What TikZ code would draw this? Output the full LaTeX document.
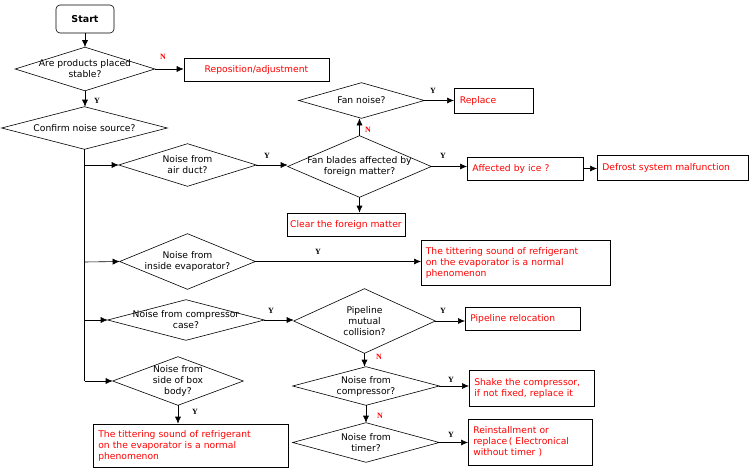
\documentclass[tikz,border=0pt]{standalone}
\usepackage{fontspec}
\setmainfont{DejaVu Sans}
\newfontfamily\lblfont{Liberation Serif}
\usetikzlibrary{arrows.meta}
\begin{document}
\begin{tikzpicture}[x=1pt,y=-1pt,
  every node/.style={font=\fontsize{9.2}{11}\selectfont, inner sep=0pt},
  dbox/.style={rectangle, align=center},
  rb/.style={draw, rectangle, align=left, text=red},
  arr/.style={-{Latex[length=7pt,width=6pt]}, line width=0.6pt},
  lab/.style={font=\lblfont\bfseries\fontsize{8}{8}\selectfont},
  labr/.style={font=\lblfont\bfseries\fontsize{8}{8}\selectfont, text=red}]
\useasboundingbox (0,0) rectangle (756,471);
\tikzset{every path/.style={line width=0.6pt}}
\newcommand\mydia[6]{%
  \node[dbox, minimum width=#4pt, minimum height=#5pt] (#1) at (#2,#3) {#6};
  \draw (#1.west) -- (#1.north) -- (#1.east) -- (#1.south) -- cycle;}
\node[draw, rounded corners=4pt, minimum width=58pt, minimum height=28pt, font=\bfseries\fontsize{9.5}{11}\selectfont] (start) at (85,19) {Start};
\mydia{d1}{85}{69}{139}{43}{Are products placed\\stable?}
\node[rb, minimum width=145pt, minimum height=23pt, align=center] (repos) at (256.5,69.5) {Reposition/adjustment};
\mydia{d2}{84.5}{128}{165}{42}{Confirm noise source?}
\mydia{air}{187.5}{165}{137}{42}{Noise from\\air duct?}
\mydia{fan}{359.5}{166.5}{143}{61}{Fan blades affected by\\foreign matter?}
\mydia{fn}{361.5}{100.5}{125}{35}{Fan noise?}
\node[rb, minimum width=79pt, minimum height=25pt, anchor=west, text width=68pt, inner xsep=5.5pt] (repl) at (454,100.5) {Replace};
\node[rb, minimum width=118pt, minimum height=23pt, align=center] (clear) at (346,224.5) {Clear the foreign matter};
\node[rb, minimum width=116pt, minimum height=23pt, anchor=west, text width=106pt, inner xsep=5pt] (ice) at (467,168.5) {Affected by ice ?};
\node[rb, minimum width=151pt, minimum height=25pt, anchor=west, text width=141pt, inner xsep=5pt] (defrost) at (597,167.5) {Defrost system malfunction};
\mydia{evap}{187.5}{261.5}{135}{55}{Noise from\\inside evaporator?}
\node[rb, minimum width=189pt, minimum height=45pt, anchor=west, text width=180pt, inner xsep=4.5pt] (evbox) at (421,262.5) {The tittering sound of refrigerant\\on the evaporator is a normal\\phenomenon};
\mydia{comp}{186}{320}{156}{40}{Noise from compressor\\case?}
\mydia{pipe}{364.5}{321}{141}{64}{Pipeline\\mutual\\collision?}
\node[rb, minimum width=115pt, minimum height=23pt, anchor=west, text width=105pt, inner xsep=5pt] (reloc) at (465,318.5) {Pipeline relocation};
\mydia{cmp}{366}{386}{146}{38}{Noise from\\compressor?}
\node[rb, minimum width=125pt, minimum height=36pt, anchor=west, text width=115pt, inner xsep=5pt] (shake) at (469,388) {Shake the compressor,\\if not fixed, replace it};
\mydia{tim}{366}{442.5}{146}{39}{Noise from\\timer?}
\node[rb, minimum width=124pt, minimum height=46pt, anchor=west, text width=114pt, inner xsep=5pt] (reinst) at (468,442) {Reinstallment or\\replace\,( Electronical\\without timer )};
\mydia{side}{178}{381}{130}{48}{Noise from\\side of box\\body?}
\node[rb, minimum width=195pt, minimum height=43pt, anchor=west, text width=185pt, inner xsep=5pt] (sidebox) at (93,445.5) {The tittering sound of refrigerant\\on the evaporator is a normal\\phenomenon};
% trunk
\coordinate (t1) at (84.5,165);
\coordinate (t2) at (84.5,262);
\coordinate (t3) at (84.5,320);
\coordinate (t4) at (84.5,381);
\draw (d2.south) -- (t4);
% connectors
\draw[arr] (start) -- (d1);
\draw[arr] (d1.east) -- (repos.west |- d1.east);
\draw[arr] (d1.south) -- (d2.north -| d1.south);
\draw[arr] (t1) -- (air.west);
\draw[arr] (air.east) -- (fan.west |- air.east);
\draw[arr] (fan.north) -- (fn.south -| fan.north);
\draw[arr] (fn.east) -- (repl.west |- fn.east);
\draw[arr] (fan.south) -- (clear.north -| fan.south);
\draw[arr] (fan.east) -- (ice.west |- fan.east);
\draw[arr] (ice.east) -- (defrost.west |- ice.east);
\draw[arr] (t2) -- (evap.west);
\draw[arr] (evap.east) -- (evbox.west |- evap.east);
\draw[arr] (t3) -- (comp.west);
\draw[arr] (comp.east) -- (pipe.west |- comp.east);
\draw[arr] (pipe.east) -- (reloc.west |- pipe.east);
\draw[arr] (pipe.south) -- (cmp.north -| pipe.south);
\draw[arr] (cmp.east) -- (shake.west |- cmp.east);
\draw[arr] (cmp.south) -- (tim.north -| cmp.south);
\draw[arr] (tim.east) -- (reinst.west |- tim.east);
\draw[arr] (t4) -- (side.west);
\draw[arr] (side.south) -- (sidebox.north -| side.south);
% labels
\node[labr] (l1) at (163,57) {N};
\node[lab] (l2) at (97,101) {Y};
\node[lab] (l3) at (267,156) {Y};
\node[labr] (l4) at (368,130) {N};
\node[lab] (l5) at (433,91) {Y};
\node[lab] (l6) at (443,156) {Y};
\node[lab] (l7) at (318,252) {Y};
\node[lab] (l8) at (271,311) {Y};
\node[lab] (l9) at (443,311) {Y};
\node[labr] (l10) at (379,357) {N};
\node[lab] (l11) at (451,380) {Y};
\node[labr] (l12) at (380,416) {N};
\node[lab] (l13) at (451,435) {Y};
\node[lab] (l14) at (195,412) {Y};
\end{tikzpicture}
\end{document}
